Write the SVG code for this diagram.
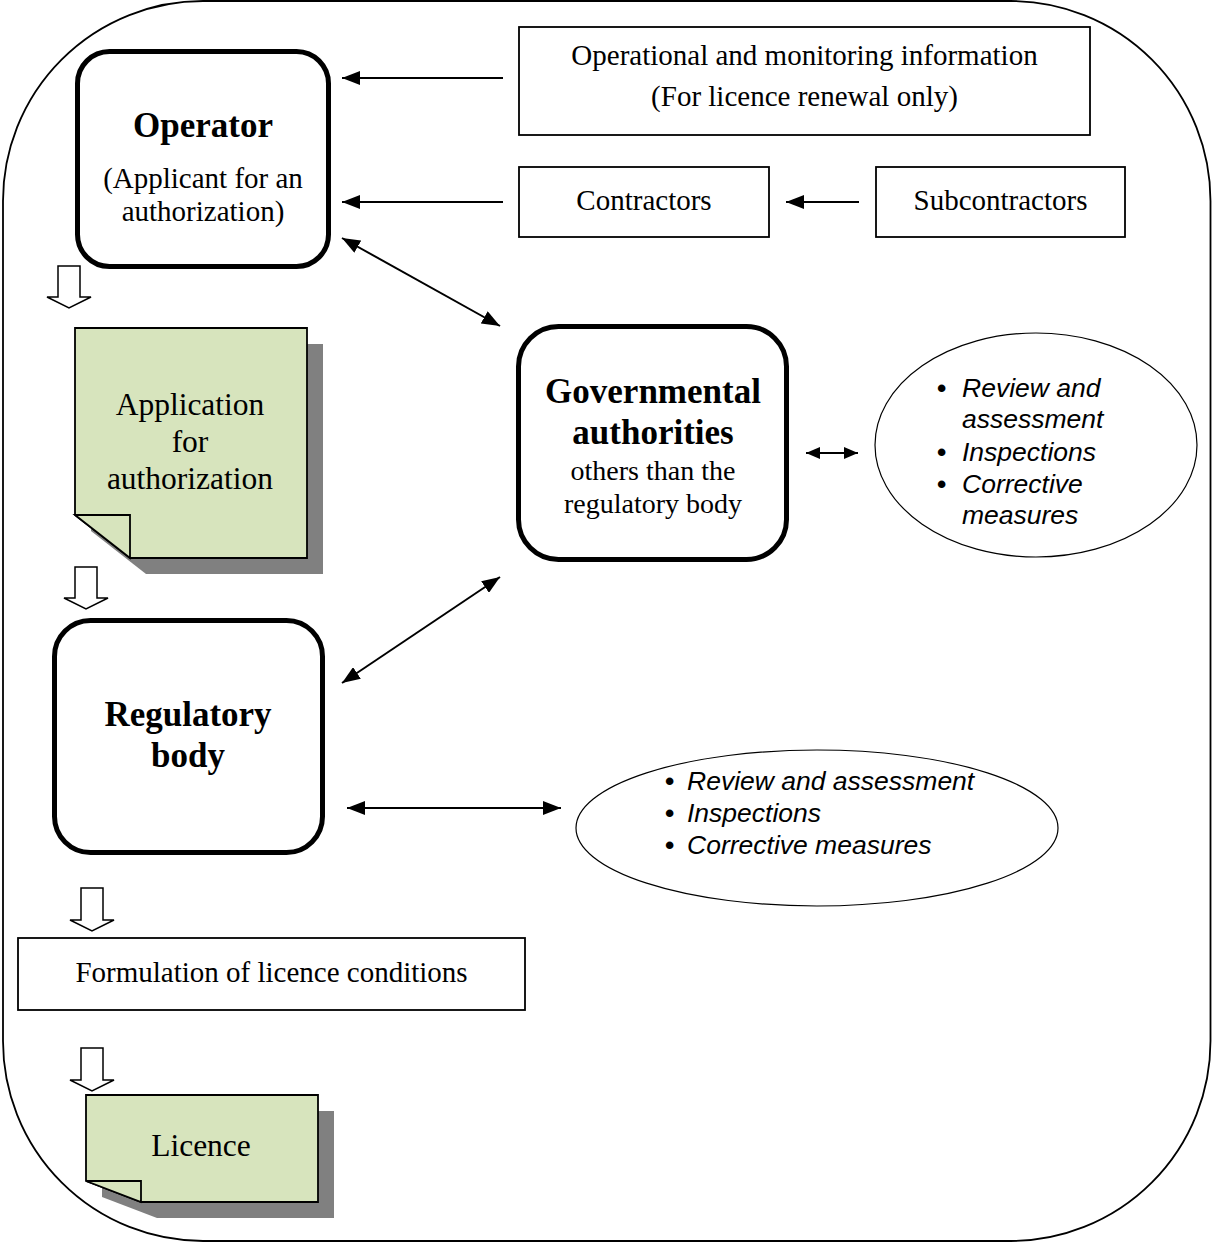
<svg xmlns="http://www.w3.org/2000/svg" width="1212" height="1244" viewBox="0 0 1212 1244">
<style>
.thin{fill:#fff;stroke:#000;stroke-width:1.8}
.bold{fill:#fff;stroke:#000;stroke-width:5}
.ell{fill:#fff;stroke:#000;stroke-width:1.2}
.doc{fill:#d7e4bd;stroke:#000;stroke-width:1.8;stroke-linejoin:miter}
.shadow{fill:#808080}
.hol{fill:#fff;stroke:#000;stroke-width:1.5;stroke-linejoin:miter}
.serif{font-family:'Liberation Serif','Times New Roman',serif;fill:#000}
.sans{font-family:'Liberation Sans',Arial,sans-serif;font-style:italic;fill:#000;font-size:26.5px}
.bul{font-style:normal;font-weight:bold}
.conn{stroke:#000;stroke-width:2;fill:none}
</style>
<defs>
<marker id="ah" viewBox="0 0 18 14" refX="18" refY="7" markerWidth="18" markerHeight="14" markerUnits="userSpaceOnUse" orient="auto-start-reverse">
<path d="M0,0 L18,7 L0,14 Z" fill="#000"/>
</marker>
<marker id="ahs" viewBox="0 0 14 12" refX="14" refY="6" markerWidth="14" markerHeight="12" markerUnits="userSpaceOnUse" orient="auto-start-reverse">
<path d="M0,0 L14,6 L0,12 Z" fill="#000"/>
</marker>
</defs>

<rect id="border" x="3" y="1" width="1207.5" height="1240" rx="200" ry="200" fill="#fff" stroke="#000" stroke-width="1.8"/>

<g id="operator">
<rect class="bold" x="77.5" y="51.5" width="251" height="215" rx="32"/>
<text class="serif" x="203" y="137" font-size="35" font-weight="bold" text-anchor="middle">Operator</text>
<text class="serif" x="203" y="188" font-size="29" text-anchor="middle">(Applicant for an</text>
<text class="serif" x="203" y="221" font-size="29" text-anchor="middle">authorization)</text>
</g>

<g id="operational-info">
<rect class="thin" x="519" y="27" width="571" height="108"/>
<text class="serif" x="804.5" y="65" font-size="29" text-anchor="middle">Operational and monitoring information</text>
<text class="serif" x="804.5" y="106" font-size="29" text-anchor="middle">(For licence renewal only)</text>
</g>

<g id="contractors">
<rect class="thin" x="519" y="167" width="250" height="70"/>
<text class="serif" x="644" y="210" font-size="29" text-anchor="middle">Contractors</text>
</g>

<g id="subcontractors">
<rect class="thin" x="876" y="167" width="249" height="70"/>
<text class="serif" x="1000.5" y="210" font-size="29" text-anchor="middle">Subcontractors</text>
</g>

<g id="application">
<path class="shadow" d="M91,344 L323,344 L323,574 L146,574 L91,531 Z"/>
<path class="doc" d="M75,328 L307,328 L307,558 L130,558 L75,515 Z"/>
<path class="doc" d="M75,515 L130,515 L130,558 Z"/>
<text class="serif" x="190" y="415" font-size="31.5" text-anchor="middle">Application</text>
<text class="serif" x="190" y="452" font-size="31.5" text-anchor="middle">for</text>
<text class="serif" x="190" y="489" font-size="31.5" text-anchor="middle">authorization</text>
</g>

<g id="governmental">
<rect class="bold" x="518.5" y="326.5" width="268" height="233" rx="40"/>
<text class="serif" x="653" y="403" font-size="35" font-weight="bold" text-anchor="middle">Governmental</text>
<text class="serif" x="653" y="444" font-size="35" font-weight="bold" text-anchor="middle">authorities</text>
<text class="serif" x="653" y="480" font-size="28" text-anchor="middle">others than the</text>
<text class="serif" x="653" y="513" font-size="28" text-anchor="middle">regulatory body</text>
</g>

<g id="gov-activities">
<ellipse class="ell" cx="1036" cy="445" rx="161" ry="112"/>
<text class="sans" x="937" y="397"><tspan class="bul">•</tspan><tspan x="962">Review and</tspan></text>
<text class="sans" x="962" y="428">assessment</text>
<text class="sans" x="937" y="461"><tspan class="bul">•</tspan><tspan x="962">Inspections</tspan></text>
<text class="sans" x="937" y="493"><tspan class="bul">•</tspan><tspan x="962">Corrective</tspan></text>
<text class="sans" x="962" y="524">measures</text>
</g>

<g id="regulatory">
<rect class="bold" x="54.5" y="620.5" width="268" height="232" rx="36"/>
<text class="serif" x="188" y="726" font-size="35" font-weight="bold" text-anchor="middle">Regulatory</text>
<text class="serif" x="188" y="767" font-size="35" font-weight="bold" text-anchor="middle">body</text>
</g>

<g id="reg-activities">
<ellipse class="ell" cx="817" cy="828" rx="241" ry="78"/>
<text class="sans" x="665" y="790"><tspan class="bul">•</tspan><tspan x="687">Review and assessment</tspan></text>
<text class="sans" x="665" y="822"><tspan class="bul">•</tspan><tspan x="687">Inspections</tspan></text>
<text class="sans" x="665" y="854"><tspan class="bul">•</tspan><tspan x="687">Corrective measures</tspan></text>
</g>

<g id="formulation">
<rect class="thin" x="18" y="938" width="507" height="72"/>
<text class="serif" x="271.5" y="982" font-size="29" text-anchor="middle">Formulation of licence conditions</text>
</g>

<g id="licence">
<path class="shadow" d="M102,1111 L334,1111 L334,1218 L157,1218 L102,1197 Z"/>
<path class="doc" d="M86,1095 L318,1095 L318,1202 L141,1202 L86,1181 Z"/>
<path class="doc" d="M86,1181 L141,1181 L141,1202 Z"/>
<text class="serif" x="201" y="1156" font-size="31.5" text-anchor="middle">Licence</text>
</g>

<g id="connectors">
<line class="conn" x1="503" y1="78" x2="342" y2="78" marker-end="url(#ah)"/>
<line class="conn" x1="503" y1="202" x2="342" y2="202" marker-end="url(#ah)"/>
<line class="conn" x1="859" y1="202" x2="786" y2="202" marker-end="url(#ah)"/>
<line class="conn" x1="342" y1="238" x2="500" y2="326" marker-start="url(#ah)" marker-end="url(#ah)"/>
<line class="conn" x1="806" y1="453" x2="858" y2="453" marker-start="url(#ahs)" marker-end="url(#ahs)"/>
<line class="conn" x1="342" y1="683" x2="500" y2="577" marker-start="url(#ah)" marker-end="url(#ah)"/>
<line class="conn" x1="347" y1="808" x2="561" y2="808" marker-start="url(#ah)" marker-end="url(#ah)"/>
<path class="hol" d="M58,266 L80,266 L80,297 L91,297 L69,308 L47,297 L58,297 Z"/>
<path class="hol" d="M75,567 L97,567 L97,598 L108,598 L86,609 L64,598 L75,598 Z"/>
<path class="hol" d="M81,888 L103,888 L103,920 L114,920 L92,931 L70,920 L81,920 Z"/>
<path class="hol" d="M81,1048 L103,1048 L103,1080 L114,1080 L92,1091 L70,1080 L81,1080 Z"/>
</g>
</svg>
